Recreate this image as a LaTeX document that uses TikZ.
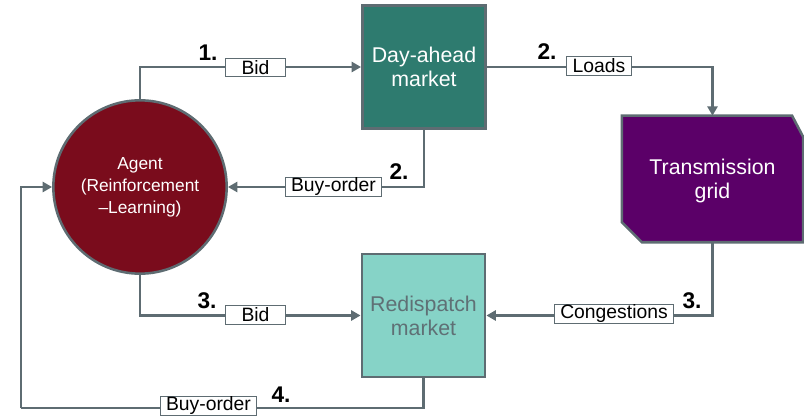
\documentclass[tikz,border=0pt]{standalone}
\usepackage{fontspec}
\setmainfont{Liberation Sans}
\usetikzlibrary{arrows.meta,calc}

\definecolor{linegray}{HTML}{5E6C72}
\definecolor{agentred}{HTML}{7A0C1C}
\definecolor{dayteal}{HTML}{2E7B6F}
\definecolor{gridpurple}{HTML}{5B0068}
\definecolor{redispmint}{HTML}{86D3C7}
\definecolor{redisptext}{HTML}{5F7075}

\tikzset{
  conn/.style={draw=linegray, line width=1.9pt,
    -{Triangle[length=7pt,width=7.5pt]}},
  plainconn/.style={draw=linegray, line width=1.9pt},
  market/.style={rectangle, draw=linegray, line width=1.9pt,
    minimum width=92.5pt, minimum height=92pt, align=center,
    font=\fontsize{16}{18}\selectfont},
  lbl/.style={rectangle, draw=linegray, line width=0.8pt, fill=white,
    inner xsep=4.5pt, inner ysep=0.5pt, minimum height=14pt,
    font=\fontsize{14.5}{15}\selectfont},
  stepnum/.style={font=\fontsize{17}{18}\selectfont\bfseries, inner sep=0pt}
}

\begin{document}
\begin{tikzpicture}[x=0.75pt,y=-0.75pt]
  \useasboundingbox (0,0) rectangle (804,417);

  % main blocks
  \node[circle, draw=linegray, line width=1.9pt, fill=agentred,
        minimum size=130pt, align=center, text=white,
        font=\fontsize{13}{16.5}\selectfont] (ag) at (140,187)
        {Agent\\(Reinforcement\\–Learning)};
  \node[market, fill=dayteal, text=white] (da) at (424,67) {Day-ahead\\market};
  \node[market, fill=redispmint, text=redisptext] (rd) at (423.5,315.5) {Redispatch\\market};

  % transmission grid: box with two clipped corners
  \node[rectangle, minimum width=135.5pt, minimum height=94.5pt] (tg) at (712.5,179) {};
  \draw[draw=linegray, line width=1.9pt, fill=gridpurple]
    (tg.north west) -- ($(tg.north east)+(-11,0)$) -- ($(tg.north east)+(0,21)$)
    -- (tg.south east) -- ($(tg.south west)+(20,0)$) -- ($(tg.south west)+(0,-20)$)
    -- cycle;
  \node[align=center, text=white, font=\fontsize{16}{18}\selectfont] (tgtext)
    at ($(tg.center)+(0,2)$) {Transmission\\grid};

  % connectors
  \draw[conn] (ag.north) |- (da.west);
  \draw[conn] (da.east) -| (tg.north);
  \draw[conn] (da.south) |- (ag.east);
  \draw[conn] (tg.south) |- (rd.east);
  \draw[conn] (ag.south) |- (rd.west);
  \coordinate (loop) at (21,408);
  \draw[plainconn] (rd.south) |- (loop);
  \draw[conn] (loop) |- (ag.west);

  % connector labels
  \node[lbl, minimum width=45.5pt] (bid1) at (255.5,67.5) {Bid};
  \node[lbl] (loads) at (599,66) {Loads};
  \node[lbl] (buy1) at (333.5,187) {Buy-order};
  \node[lbl] (cong) at (614,314) {Congestions};
  \node[lbl, minimum width=45.5pt] (bid2) at (255.5,315) {Bid};
  \node[lbl] (buy2) at (208.5,406) {Buy-order};

  % step numbers
  \node[stepnum] (n1) at (208,53) {1.};
  \node[stepnum] (n2a) at (547,52) {2.};
  \node[stepnum] (n2b) at (399,171.5) {2.};
  \node[stepnum] (n3a) at (207,301) {3.};
  \node[stepnum] (n3b) at (692,301) {3.};
  \node[stepnum] (n4) at (281,395) {4.};
\end{tikzpicture}
\end{document}
